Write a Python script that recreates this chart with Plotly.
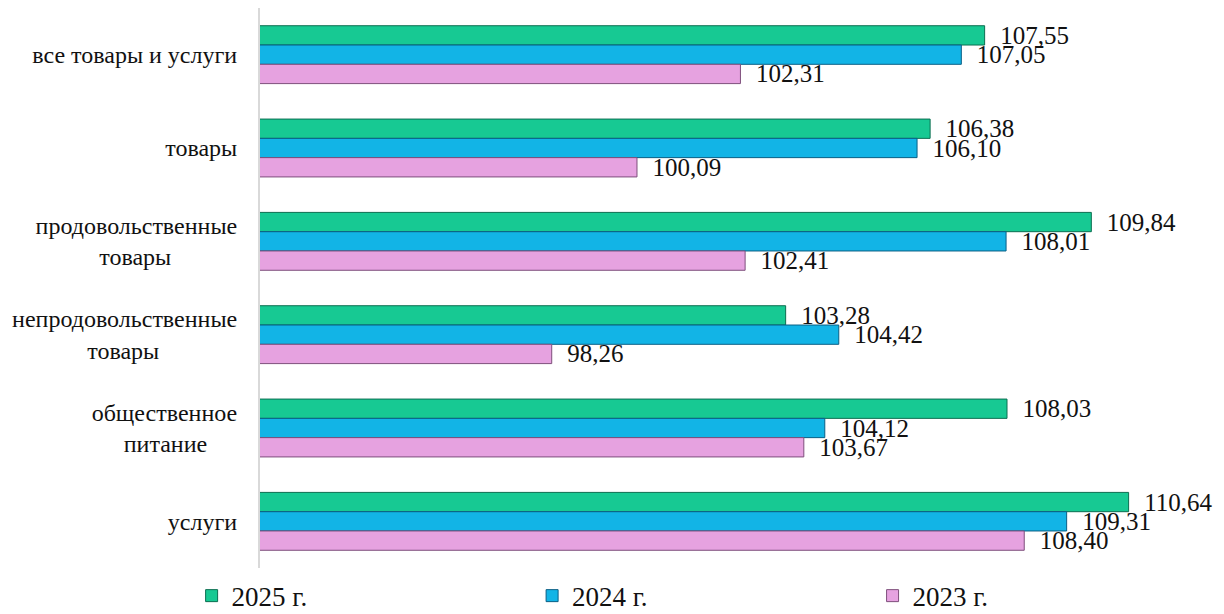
import plotly.graph_objects as go

categories = ["все товары и услуги", "товары", "продовольственные товары",
              "непродовольственные товары", "общественное питание", "услуги"]
NB = "\u00a0"
tick_text = ["все товары и услуги", "товары",
             "продовольственные<br>товары" + NB * 11,
             "непродовольственные<br>товары" + NB * 13,
             "общественное<br>питание" + NB * 5,
             "услуги"]
series_names = ["2025 г.", "2024 г.", "2023 г."]
v2025 = [107.55, 106.38, 109.84, 103.28, 108.03, 110.64]
v2024 = [107.05, 106.10, 108.01, 104.42, 104.12, 109.31]
v2023 = [102.31, 100.09, 102.41, 98.26, 103.67, 108.40]

colors = ["#17c993", "#12b4e6", "#e6a2e0"]
edges = ["#0b6e50", "#0a5f85", "#7e4f7c"]
legend_ids = ["legend", "legend2", "legend3"]
legend_x = [0.151, 0.431, 0.711]

FONT = "Liberation Serif"
fig = go.Figure()
for name, vals, c, e, lg in zip(series_names, [v2025, v2024, v2023], colors, edges, legend_ids):
    fig.add_trace(go.Bar(
        y=categories, x=vals, name=name, orientation="h", legend=lg,
        showlegend=True,
        marker=dict(color=c, line=dict(color=e, width=1)),
        text=[NB * 2 + f"{v:.2f}".replace(".", ",") for v in vals],
        textposition="outside", cliponaxis=False, constraintext="none",
        textfont=dict(family=FONT, size=25, color="#111"),
    ))

leg_common = dict(orientation="h", xref="container", yref="container",
                  y=0.07, yanchor="top", xanchor="left",
                  itemwidth=30, bgcolor="rgba(0,0,0,0)",
                  font=dict(family=FONT, size=27, color="#111"))
layout_legends = {lg: dict(x=lx, **leg_common) for lg, lx in zip(legend_ids, legend_x)}

fig.update_layout(
    width=1216, height=606, barmode="group", bargap=0.38, bargroupgap=0,
    plot_bgcolor="white", paper_bgcolor="white",
    margin=dict(l=252, r=32, t=0, b=46, autoexpand=False),
    showlegend=True,
    font=dict(family=FONT, size=24, color="#111"),
    xaxis=dict(range=[92, 112], showticklabels=False, showgrid=False,
               zeroline=False, ticks=""),
    yaxis=dict(autorange="reversed", showticklabels=True, ticks="",
               tickmode="array", tickvals=categories, ticktext=tick_text,
               ticklabelstandoff=16,
               tickfont=dict(family=FONT, size=24, color="#111"),
               showline=True, linecolor="#d9d9d9", linewidth=2, showgrid=False),
    **layout_legends,
)
fig.write_html("out.html")
